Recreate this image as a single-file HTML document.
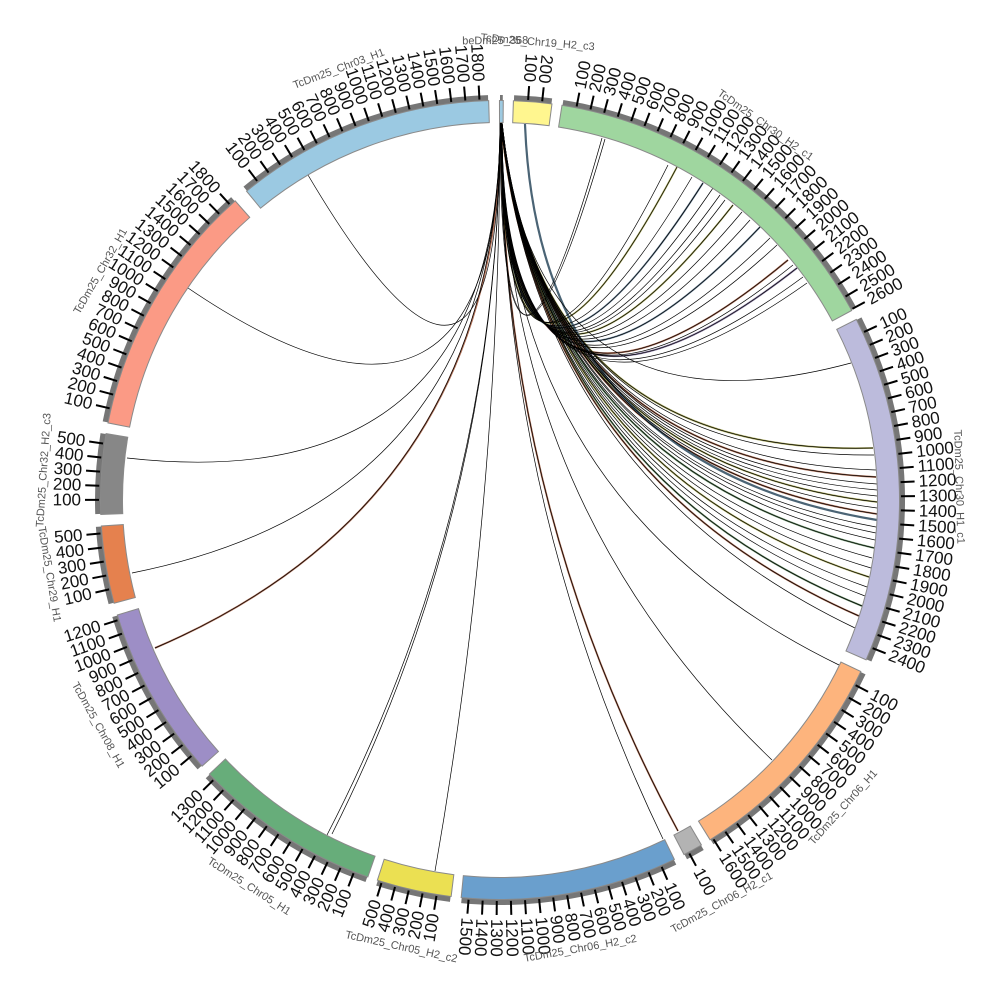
<!DOCTYPE html>
<html><head><meta charset="utf-8"><style>
html,body{margin:0;padding:0;background:#fff;width:1000px;height:1000px;overflow:hidden}
svg{display:block}
.tk line{stroke:#000;stroke-width:2}
.tk text{font-family:"Liberation Sans",sans-serif;font-size:17px;fill:#111;dominant-baseline:central}
.f text{text-anchor:end}
.nm{font-family:"Liberation Sans",sans-serif;font-size:11px;fill:#555;text-anchor:middle}
</style></head><body>
<svg width="1000" height="1000" viewBox="0 0 1000 1000" xmlns="http://www.w3.org/2000/svg">
<rect width="1000" height="1000" fill="#fff"/>

<!-- links colored underlays -->
<g fill="none" stroke-width="1.8" stroke-opacity="0.8">
<path d="M501 122Q500 500 733 205" stroke="#9a9a3a"/>
<path d="M501 122Q500 500 760 227" stroke="#52708a"/>
<path d="M501 122Q500 500 788 260" stroke="#9a4a2a"/>
<path d="M501 122Q500 500 797 268" stroke="#6a5a8a"/>
<path d="M501 122Q537 457 873 448" stroke="#9a9a3a"/>
<path d="M501 122Q538 460 876 477" stroke="#9a4a2a"/>
<path d="M501 122Q538 462 877 502" stroke="#9a9a3a"/>
<path d="M501 122Q538 463 877 514" stroke="#9a4a2a"/>
<path d="M501 122Q537 467 874 548" stroke="#4a7a4a"/>
<path d="M501 122Q537 470 869 577" stroke="#9a9a3a"/>
<path d="M501 122Q536 473 862 606" stroke="#4a7a4a"/>
<path d="M501 122Q536 474 859 616" stroke="#9a4a2a"/>
<path d="M501 122Q500 500 678 831" stroke="#9a4a2a"/>
<path d="M501 122Q500 500 155 648" stroke="#9a4a2a"/>
<path d="M501 122Q500 500 677 167" stroke="#9a9a3a"/>
<path d="M501 122Q500 500 703 183" stroke="#52708a"/>
</g>
<path d="M525 124Q538 464 877 520" fill="none" stroke="#4b6475" stroke-width="2.2"/>

<!-- links -->
<g fill="none" stroke="#000" stroke-width="0.7">
<path d="M500 122Q500 500 602 138"/>
<path d="M501 122Q500 500 605 139"/>
<path d="M501 122Q500 500 668 165"/>
<path d="M501 122Q500 500 677 167"/>
<path d="M502 122Q500 500 692 177"/>
<path d="M501 122Q500 500 703 183"/>
<path d="M501 122Q500 500 713 188"/>
<path d="M502 122Q500 500 720 195"/>
<path d="M501 122Q500 500 725 200"/>
<path d="M501 122Q500 500 733 205"/>
<path d="M502 122Q500 500 742 212"/>
<path d="M501 122Q500 500 750 220"/>
<path d="M501 122Q500 500 760 227"/>
<path d="M502 122Q500 500 770 238"/>
<path d="M501 122Q500 500 777 245"/>
<path d="M501 122Q500 500 788 260"/>
<path d="M502 122Q500 500 793 265"/>
<path d="M501 122Q500 500 797 268"/>
<path d="M501 122Q500 500 803 277"/>
<path d="M502 122Q500 500 807 283"/>
<path d="M501 122Q535 448 851 363"/>
<path d="M501 122Q537 457 873 448"/>
<path d="M502 122Q537 458 874 455"/>
<path d="M501 122Q538 459 876 470"/>
<path d="M501 122Q538 460 876 477"/>
<path d="M502 122Q538 460 877 484"/>
<path d="M501 122Q538 461 877 490"/>
<path d="M501 122Q538 462 877 496"/>
<path d="M502 122Q538 462 877 502"/>
<path d="M501 122Q538 463 877 508"/>
<path d="M501 122Q538 463 877 514"/>
<path d="M502 122Q538 465 876 527"/>
<path d="M501 122Q538 465 876 533"/>
<path d="M501 122Q537 466 875 540"/>
<path d="M502 122Q537 467 874 548"/>
<path d="M501 122Q537 468 872 558"/>
<path d="M501 122Q537 469 871 568"/>
<path d="M502 122Q537 470 869 577"/>
<path d="M501 122Q537 471 867 587"/>
<path d="M501 122Q536 472 865 596"/>
<path d="M502 122Q536 473 862 606"/>
<path d="M501 122Q536 474 859 616"/>
<path d="M501 122Q535 475 855 628"/>
<path d="M501 122Q500 500 839 665"/>
<path d="M502 122Q500 500 772 760"/>
<path d="M501 122Q500 500 678 831"/>
<path d="M501 122Q500 500 663 839"/>
<path d="M500 122Q500 500 435 871"/>
<path d="M500 122Q500 500 327 835"/>
<path d="M500 122Q500 500 332 834"/>
<path d="M500 122Q500 500 155 648"/>
<path d="M500 122Q500 500 132 573"/>
<path d="M500 122Q500 500 127 458"/>
<path d="M500 122Q500 500 188 288"/>
<path d="M500 122Q500 500 308 175"/>
</g>

<g transform="translate(500 500)">
<!-- gray outer band -->
<g fill="none" stroke="#767676" stroke-width="6">
<circle r="402" stroke-dasharray="2.81 3000" transform="rotate(-90)"/>
<circle r="402" stroke-dasharray="37.89 3000" transform="rotate(-88)"/>
<circle r="402" stroke-dasharray="369.05 3000" transform="rotate(-81)"/>
<circle r="402" stroke-dasharray="352.91 3000" transform="rotate(-26.8)"/>
<circle r="402" stroke-dasharray="229.43 3000" transform="rotate(25.5)"/>
<circle r="402" stroke-dasharray="18.94 3000" transform="rotate(59.8)"/>
<circle r="402" stroke-dasharray="219.61 3000" transform="rotate(64.2)"/>
<circle r="402" stroke-dasharray="75.07 3000" transform="rotate(97.1)"/>
<circle r="402" stroke-dasharray="190.84 3000" transform="rotate(109.4)"/>
<circle r="402" stroke-dasharray="174.70 3000" transform="rotate(138.3)"/>
<circle r="402" stroke-dasharray="77.88 3000" transform="rotate(165.1)"/>
<circle r="402" stroke-dasharray="80.69 3000" transform="rotate(178)"/>
<circle r="402" stroke-dasharray="261.00 3000" transform="rotate(191.2)"/>
<circle r="402" stroke-dasharray="263.81 3000" transform="rotate(230.7)"/>
</g>
<!-- borders -->
<g fill="none" stroke="#8a8a8a" stroke-width="23">
<circle r="388.5" stroke-dasharray="4.74 3000" transform="rotate(-90.15)"/>
<circle r="388.5" stroke-dasharray="38.65 3000" transform="rotate(-88.15)"/>
<circle r="388.5" stroke-dasharray="358.69 3000" transform="rotate(-81.15)"/>
<circle r="388.5" stroke-dasharray="343.09 3000" transform="rotate(-26.95)"/>
<circle r="388.5" stroke-dasharray="223.76 3000" transform="rotate(25.35)"/>
<circle r="388.5" stroke-dasharray="20.34 3000" transform="rotate(59.65)"/>
<circle r="388.5" stroke-dasharray="214.26 3000" transform="rotate(64.05)"/>
<circle r="388.5" stroke-dasharray="74.58 3000" transform="rotate(96.95)"/>
<circle r="388.5" stroke-dasharray="186.46 3000" transform="rotate(109.25)"/>
<circle r="388.5" stroke-dasharray="170.87 3000" transform="rotate(138.15)"/>
<circle r="388.5" stroke-dasharray="77.29 3000" transform="rotate(164.95)"/>
<circle r="388.5" stroke-dasharray="80.01 3000" transform="rotate(177.85)"/>
<circle r="388.5" stroke-dasharray="254.27 3000" transform="rotate(191.05)"/>
<circle r="388.5" stroke-dasharray="256.98 3000" transform="rotate(230.55)"/>
</g>
<!-- colored segments -->
<g fill="none" stroke-width="21">
<circle r="388.5" stroke="#9ecae1" stroke-dasharray="2.71 3000" transform="rotate(-90)"/>
<circle r="388.5" stroke="#fff68f" stroke-dasharray="36.62 3000" transform="rotate(-88)"/>
<circle r="388.5" stroke="#9fd69f" stroke-dasharray="356.66 3000" transform="rotate(-81)"/>
<circle r="388.5" stroke="#bcbbdc" stroke-dasharray="341.06 3000" transform="rotate(-26.8)"/>
<circle r="388.5" stroke="#fdb47d" stroke-dasharray="221.73 3000" transform="rotate(25.5)"/>
<circle r="388.5" stroke="#b3b3b3" stroke-dasharray="18.31 3000" transform="rotate(59.8)"/>
<circle r="388.5" stroke="#6a9fcd" stroke-dasharray="212.23 3000" transform="rotate(64.2)"/>
<circle r="388.5" stroke="#ebe052" stroke-dasharray="72.55 3000" transform="rotate(97.1)"/>
<circle r="388.5" stroke="#67ad7a" stroke-dasharray="184.43 3000" transform="rotate(109.4)"/>
<circle r="388.5" stroke="#9d8ec6" stroke-dasharray="168.84 3000" transform="rotate(138.3)"/>
<circle r="388.5" stroke="#e5814e" stroke-dasharray="75.26 3000" transform="rotate(165.1)"/>
<circle r="388.5" stroke="#878787" stroke-dasharray="77.98 3000" transform="rotate(178)"/>
<circle r="388.5" stroke="#fb9a85" stroke-dasharray="252.24 3000" transform="rotate(191.2)"/>
<circle r="388.5" stroke="#9bc9e2" stroke-dasharray="254.95 3000" transform="rotate(230.7)"/>
</g>

<!-- Chr19 (flip) -->
<g class="tk f" transform="rotate(-268)">
<g transform="rotate(2.02)"><line x1="-401" x2="-415"/><text x="-419">100</text></g>
<g transform="rotate(4.04)"><line x1="-401" x2="-415"/><text x="-419">200</text></g>
</g>
<!-- Chr30_H2_c1 -->
<g class="tk" transform="rotate(-81)">
<g transform="rotate(2.02)"><line x1="401" x2="415"/><text x="419">100</text></g>
<g transform="rotate(4.04)"><line x1="401" x2="415"/><text x="419">200</text></g>
<g transform="rotate(6.06)"><line x1="401" x2="415"/><text x="419">300</text></g>
<g transform="rotate(8.08)"><line x1="401" x2="415"/><text x="419">400</text></g>
<g transform="rotate(10.1)"><line x1="401" x2="415"/><text x="419">500</text></g>
<g transform="rotate(12.12)"><line x1="401" x2="415"/><text x="419">600</text></g>
<g transform="rotate(14.14)"><line x1="401" x2="415"/><text x="419">700</text></g>
<g transform="rotate(16.16)"><line x1="401" x2="415"/><text x="419">800</text></g>
<g transform="rotate(18.18)"><line x1="401" x2="415"/><text x="419">900</text></g>
<g transform="rotate(20.2)"><line x1="401" x2="415"/><text x="419">1000</text></g>
<g transform="rotate(22.22)"><line x1="401" x2="415"/><text x="419">1100</text></g>
<g transform="rotate(24.24)"><line x1="401" x2="415"/><text x="419">1200</text></g>
<g transform="rotate(26.26)"><line x1="401" x2="415"/><text x="419">1300</text></g>
<g transform="rotate(28.28)"><line x1="401" x2="415"/><text x="419">1400</text></g>
<g transform="rotate(30.3)"><line x1="401" x2="415"/><text x="419">1500</text></g>
<g transform="rotate(32.32)"><line x1="401" x2="415"/><text x="419">1600</text></g>
<g transform="rotate(34.34)"><line x1="401" x2="415"/><text x="419">1700</text></g>
<g transform="rotate(36.36)"><line x1="401" x2="415"/><text x="419">1800</text></g>
<g transform="rotate(38.38)"><line x1="401" x2="415"/><text x="419">1900</text></g>
<g transform="rotate(40.4)"><line x1="401" x2="415"/><text x="419">2000</text></g>
<g transform="rotate(42.42)"><line x1="401" x2="415"/><text x="419">2100</text></g>
<g transform="rotate(44.44)"><line x1="401" x2="415"/><text x="419">2200</text></g>
<g transform="rotate(46.46)"><line x1="401" x2="415"/><text x="419">2300</text></g>
<g transform="rotate(48.48)"><line x1="401" x2="415"/><text x="419">2400</text></g>
<g transform="rotate(50.5)"><line x1="401" x2="415"/><text x="419">2500</text></g>
<g transform="rotate(52.52)"><line x1="401" x2="415"/><text x="419">2600</text></g>
</g>
<!-- Chr30_H1_c1 -->
<g class="tk" transform="rotate(-26.8)">
<g transform="rotate(2.02)"><line x1="401" x2="415"/><text x="419">100</text></g>
<g transform="rotate(4.04)"><line x1="401" x2="415"/><text x="419">200</text></g>
<g transform="rotate(6.06)"><line x1="401" x2="415"/><text x="419">300</text></g>
<g transform="rotate(8.08)"><line x1="401" x2="415"/><text x="419">400</text></g>
<g transform="rotate(10.1)"><line x1="401" x2="415"/><text x="419">500</text></g>
<g transform="rotate(12.12)"><line x1="401" x2="415"/><text x="419">600</text></g>
<g transform="rotate(14.14)"><line x1="401" x2="415"/><text x="419">700</text></g>
<g transform="rotate(16.16)"><line x1="401" x2="415"/><text x="419">800</text></g>
<g transform="rotate(18.18)"><line x1="401" x2="415"/><text x="419">900</text></g>
<g transform="rotate(20.2)"><line x1="401" x2="415"/><text x="419">1000</text></g>
<g transform="rotate(22.22)"><line x1="401" x2="415"/><text x="419">1100</text></g>
<g transform="rotate(24.24)"><line x1="401" x2="415"/><text x="419">1200</text></g>
<g transform="rotate(26.26)"><line x1="401" x2="415"/><text x="419">1300</text></g>
<g transform="rotate(28.28)"><line x1="401" x2="415"/><text x="419">1400</text></g>
<g transform="rotate(30.3)"><line x1="401" x2="415"/><text x="419">1500</text></g>
<g transform="rotate(32.32)"><line x1="401" x2="415"/><text x="419">1600</text></g>
<g transform="rotate(34.34)"><line x1="401" x2="415"/><text x="419">1700</text></g>
<g transform="rotate(36.36)"><line x1="401" x2="415"/><text x="419">1800</text></g>
<g transform="rotate(38.38)"><line x1="401" x2="415"/><text x="419">1900</text></g>
<g transform="rotate(40.4)"><line x1="401" x2="415"/><text x="419">2000</text></g>
<g transform="rotate(42.42)"><line x1="401" x2="415"/><text x="419">2100</text></g>
<g transform="rotate(44.44)"><line x1="401" x2="415"/><text x="419">2200</text></g>
<g transform="rotate(46.46)"><line x1="401" x2="415"/><text x="419">2300</text></g>
<g transform="rotate(48.48)"><line x1="401" x2="415"/><text x="419">2400</text></g>
</g>
<!-- Chr06_H1 -->
<g class="tk" transform="rotate(25.5)">
<g transform="rotate(2.02)"><line x1="401" x2="415"/><text x="419">100</text></g>
<g transform="rotate(4.04)"><line x1="401" x2="415"/><text x="419">200</text></g>
<g transform="rotate(6.06)"><line x1="401" x2="415"/><text x="419">300</text></g>
<g transform="rotate(8.08)"><line x1="401" x2="415"/><text x="419">400</text></g>
<g transform="rotate(10.1)"><line x1="401" x2="415"/><text x="419">500</text></g>
<g transform="rotate(12.12)"><line x1="401" x2="415"/><text x="419">600</text></g>
<g transform="rotate(14.14)"><line x1="401" x2="415"/><text x="419">700</text></g>
<g transform="rotate(16.16)"><line x1="401" x2="415"/><text x="419">800</text></g>
<g transform="rotate(18.18)"><line x1="401" x2="415"/><text x="419">900</text></g>
<g transform="rotate(20.2)"><line x1="401" x2="415"/><text x="419">1000</text></g>
<g transform="rotate(22.22)"><line x1="401" x2="415"/><text x="419">1100</text></g>
<g transform="rotate(24.24)"><line x1="401" x2="415"/><text x="419">1200</text></g>
<g transform="rotate(26.26)"><line x1="401" x2="415"/><text x="419">1300</text></g>
<g transform="rotate(28.28)"><line x1="401" x2="415"/><text x="419">1400</text></g>
<g transform="rotate(30.3)"><line x1="401" x2="415"/><text x="419">1500</text></g>
<g transform="rotate(32.32)"><line x1="401" x2="415"/><text x="419">1600</text></g>
</g>
<!-- Chr06_H2_c1 -->
<g class="tk" transform="rotate(59.8)">
<g transform="rotate(2.02)"><line x1="401" x2="415"/><text x="419">100</text></g>
</g>
<!-- Chr06_H2_c2 -->
<g class="tk" transform="rotate(64.2)">
<g transform="rotate(2.02)"><line x1="401" x2="415"/><text x="419">100</text></g>
<g transform="rotate(4.04)"><line x1="401" x2="415"/><text x="419">200</text></g>
<g transform="rotate(6.06)"><line x1="401" x2="415"/><text x="419">300</text></g>
<g transform="rotate(8.08)"><line x1="401" x2="415"/><text x="419">400</text></g>
<g transform="rotate(10.1)"><line x1="401" x2="415"/><text x="419">500</text></g>
<g transform="rotate(12.12)"><line x1="401" x2="415"/><text x="419">600</text></g>
<g transform="rotate(14.14)"><line x1="401" x2="415"/><text x="419">700</text></g>
<g transform="rotate(16.16)"><line x1="401" x2="415"/><text x="419">800</text></g>
<g transform="rotate(18.18)"><line x1="401" x2="415"/><text x="419">900</text></g>
<g transform="rotate(20.2)"><line x1="401" x2="415"/><text x="419">1000</text></g>
<g transform="rotate(22.22)"><line x1="401" x2="415"/><text x="419">1100</text></g>
<g transform="rotate(24.24)"><line x1="401" x2="415"/><text x="419">1200</text></g>
<g transform="rotate(26.26)"><line x1="401" x2="415"/><text x="419">1300</text></g>
<g transform="rotate(28.28)"><line x1="401" x2="415"/><text x="419">1400</text></g>
<g transform="rotate(30.3)"><line x1="401" x2="415"/><text x="419">1500</text></g>
</g>
<!-- Chr05_H2_c2 (flip) -->
<g class="tk f" transform="rotate(-82.9)">
<g transform="rotate(2.02)"><line x1="-401" x2="-415"/><text x="-419">100</text></g>
<g transform="rotate(4.04)"><line x1="-401" x2="-415"/><text x="-419">200</text></g>
<g transform="rotate(6.06)"><line x1="-401" x2="-415"/><text x="-419">300</text></g>
<g transform="rotate(8.08)"><line x1="-401" x2="-415"/><text x="-419">400</text></g>
<g transform="rotate(10.1)"><line x1="-401" x2="-415"/><text x="-419">500</text></g>
</g>
<!-- Chr05_H1 (flip) -->
<g class="tk f" transform="rotate(-70.6)">
<g transform="rotate(2.02)"><line x1="-401" x2="-415"/><text x="-419">100</text></g>
<g transform="rotate(4.04)"><line x1="-401" x2="-415"/><text x="-419">200</text></g>
<g transform="rotate(6.06)"><line x1="-401" x2="-415"/><text x="-419">300</text></g>
<g transform="rotate(8.08)"><line x1="-401" x2="-415"/><text x="-419">400</text></g>
<g transform="rotate(10.1)"><line x1="-401" x2="-415"/><text x="-419">500</text></g>
<g transform="rotate(12.12)"><line x1="-401" x2="-415"/><text x="-419">600</text></g>
<g transform="rotate(14.14)"><line x1="-401" x2="-415"/><text x="-419">700</text></g>
<g transform="rotate(16.16)"><line x1="-401" x2="-415"/><text x="-419">800</text></g>
<g transform="rotate(18.18)"><line x1="-401" x2="-415"/><text x="-419">900</text></g>
<g transform="rotate(20.2)"><line x1="-401" x2="-415"/><text x="-419">1000</text></g>
<g transform="rotate(22.22)"><line x1="-401" x2="-415"/><text x="-419">1100</text></g>
<g transform="rotate(24.24)"><line x1="-401" x2="-415"/><text x="-419">1200</text></g>
<g transform="rotate(26.26)"><line x1="-401" x2="-415"/><text x="-419">1300</text></g>
</g>
<!-- Chr08_H1 (flip) -->
<g class="tk f" transform="rotate(-41.7)">
<g transform="rotate(2.02)"><line x1="-401" x2="-415"/><text x="-419">100</text></g>
<g transform="rotate(4.04)"><line x1="-401" x2="-415"/><text x="-419">200</text></g>
<g transform="rotate(6.06)"><line x1="-401" x2="-415"/><text x="-419">300</text></g>
<g transform="rotate(8.08)"><line x1="-401" x2="-415"/><text x="-419">400</text></g>
<g transform="rotate(10.1)"><line x1="-401" x2="-415"/><text x="-419">500</text></g>
<g transform="rotate(12.12)"><line x1="-401" x2="-415"/><text x="-419">600</text></g>
<g transform="rotate(14.14)"><line x1="-401" x2="-415"/><text x="-419">700</text></g>
<g transform="rotate(16.16)"><line x1="-401" x2="-415"/><text x="-419">800</text></g>
<g transform="rotate(18.18)"><line x1="-401" x2="-415"/><text x="-419">900</text></g>
<g transform="rotate(20.2)"><line x1="-401" x2="-415"/><text x="-419">1000</text></g>
<g transform="rotate(22.22)"><line x1="-401" x2="-415"/><text x="-419">1100</text></g>
<g transform="rotate(24.24)"><line x1="-401" x2="-415"/><text x="-419">1200</text></g>
</g>
<!-- Chr29_H1 (flip) -->
<g class="tk f" transform="rotate(-14.9)">
<g transform="rotate(2.02)"><line x1="-401" x2="-415"/><text x="-419">100</text></g>
<g transform="rotate(4.04)"><line x1="-401" x2="-415"/><text x="-419">200</text></g>
<g transform="rotate(6.06)"><line x1="-401" x2="-415"/><text x="-419">300</text></g>
<g transform="rotate(8.08)"><line x1="-401" x2="-415"/><text x="-419">400</text></g>
<g transform="rotate(10.1)"><line x1="-401" x2="-415"/><text x="-419">500</text></g>
</g>
<!-- Chr32_H2_c3 (flip) -->
<g class="tk f" transform="rotate(-2)">
<g transform="rotate(2.02)"><line x1="-401" x2="-415"/><text x="-419">100</text></g>
<g transform="rotate(4.04)"><line x1="-401" x2="-415"/><text x="-419">200</text></g>
<g transform="rotate(6.06)"><line x1="-401" x2="-415"/><text x="-419">300</text></g>
<g transform="rotate(8.08)"><line x1="-401" x2="-415"/><text x="-419">400</text></g>
<g transform="rotate(10.1)"><line x1="-401" x2="-415"/><text x="-419">500</text></g>
</g>
<!-- Chr32_H1 (flip) -->
<g class="tk f" transform="rotate(11.2)">
<g transform="rotate(2.02)"><line x1="-401" x2="-415"/><text x="-419">100</text></g>
<g transform="rotate(4.04)"><line x1="-401" x2="-415"/><text x="-419">200</text></g>
<g transform="rotate(6.06)"><line x1="-401" x2="-415"/><text x="-419">300</text></g>
<g transform="rotate(8.08)"><line x1="-401" x2="-415"/><text x="-419">400</text></g>
<g transform="rotate(10.1)"><line x1="-401" x2="-415"/><text x="-419">500</text></g>
<g transform="rotate(12.12)"><line x1="-401" x2="-415"/><text x="-419">600</text></g>
<g transform="rotate(14.14)"><line x1="-401" x2="-415"/><text x="-419">700</text></g>
<g transform="rotate(16.16)"><line x1="-401" x2="-415"/><text x="-419">800</text></g>
<g transform="rotate(18.18)"><line x1="-401" x2="-415"/><text x="-419">900</text></g>
<g transform="rotate(20.2)"><line x1="-401" x2="-415"/><text x="-419">1000</text></g>
<g transform="rotate(22.22)"><line x1="-401" x2="-415"/><text x="-419">1100</text></g>
<g transform="rotate(24.24)"><line x1="-401" x2="-415"/><text x="-419">1200</text></g>
<g transform="rotate(26.26)"><line x1="-401" x2="-415"/><text x="-419">1300</text></g>
<g transform="rotate(28.28)"><line x1="-401" x2="-415"/><text x="-419">1400</text></g>
<g transform="rotate(30.3)"><line x1="-401" x2="-415"/><text x="-419">1500</text></g>
<g transform="rotate(32.32)"><line x1="-401" x2="-415"/><text x="-419">1600</text></g>
<g transform="rotate(34.34)"><line x1="-401" x2="-415"/><text x="-419">1700</text></g>
<g transform="rotate(36.36)"><line x1="-401" x2="-415"/><text x="-419">1800</text></g>
</g>
<!-- Chr03_H1 (flip) -->
<g class="tk f" transform="rotate(50.7)">
<g transform="rotate(2.02)"><line x1="-401" x2="-415"/><text x="-419">100</text></g>
<g transform="rotate(4.04)"><line x1="-401" x2="-415"/><text x="-419">200</text></g>
<g transform="rotate(6.06)"><line x1="-401" x2="-415"/><text x="-419">300</text></g>
<g transform="rotate(8.08)"><line x1="-401" x2="-415"/><text x="-419">400</text></g>
<g transform="rotate(10.1)"><line x1="-401" x2="-415"/><text x="-419">500</text></g>
<g transform="rotate(12.12)"><line x1="-401" x2="-415"/><text x="-419">600</text></g>
<g transform="rotate(14.14)"><line x1="-401" x2="-415"/><text x="-419">700</text></g>
<g transform="rotate(16.16)"><line x1="-401" x2="-415"/><text x="-419">800</text></g>
<g transform="rotate(18.18)"><line x1="-401" x2="-415"/><text x="-419">900</text></g>
<g transform="rotate(20.2)"><line x1="-401" x2="-415"/><text x="-419">1000</text></g>
<g transform="rotate(22.22)"><line x1="-401" x2="-415"/><text x="-419">1100</text></g>
<g transform="rotate(24.24)"><line x1="-401" x2="-415"/><text x="-419">1200</text></g>
<g transform="rotate(26.26)"><line x1="-401" x2="-415"/><text x="-419">1300</text></g>
<g transform="rotate(28.28)"><line x1="-401" x2="-415"/><text x="-419">1400</text></g>
<g transform="rotate(30.3)"><line x1="-401" x2="-415"/><text x="-419">1500</text></g>
<g transform="rotate(32.32)"><line x1="-401" x2="-415"/><text x="-419">1600</text></g>
<g transform="rotate(34.34)"><line x1="-401" x2="-415"/><text x="-419">1700</text></g>
<g transform="rotate(36.36)"><line x1="-401" x2="-415"/><text x="-419">1800</text></g>
</g>

<!-- sector names -->
<text class="nm" transform="rotate(-0.6)" y="-456">beDm25_368</text>
<text class="nm" transform="rotate(4.7)" y="-456">TcDm25_Chr19_H2_c3</text>
<text class="nm" transform="rotate(35.3)" y="-456">TcDm25_Chr30_H2_c1</text>
<text class="nm" transform="rotate(88.35)" y="-456">TcDm25_Chr30_H1_c1</text>
<text class="nm" transform="rotate(-48.15)" y="464">TcDm25_Chr06_H1</text>
<text class="nm" transform="rotate(-28.85)" y="463">TcDm25_Chr06_H2_c1</text>
<text class="nm" transform="rotate(-10.15)" y="459">TcDm25_Chr06_H2_c2</text>
<text class="nm" transform="rotate(12.45)" y="461">TcDm25_Chr05_H2_c2</text>
<text class="nm" transform="rotate(33)" y="464">TcDm25_Chr05_H1</text>
<text class="nm" transform="rotate(60.75)" y="464">TcDm25_Chr08_H1</text>
<text class="nm" transform="rotate(80.65)" y="460">TcDm25_Chr29_H1</text>
<text class="nm" transform="rotate(273.75)" y="-454">TcDm25_Chr32_H2_c3</text>
<text class="nm" transform="rotate(299.8)" y="-457">TcDm25_Chr32_H1</text>
<text class="nm" transform="rotate(339.5)" y="-457">TcDm25_Chr03_H1</text>
</g>
</svg>
</body></html>
